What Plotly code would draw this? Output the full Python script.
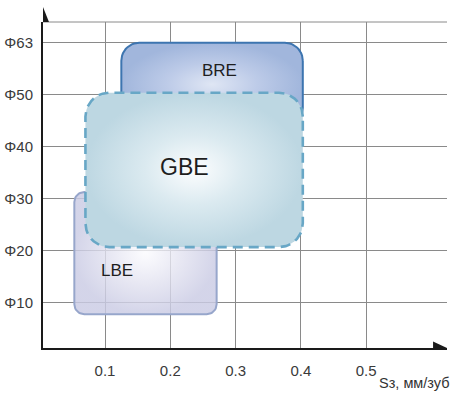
import numpy as np
import plotly.graph_objects as go

# Tool diameter categories (y) and feed per tooth ticks (x)
dia_labels = ["Φ10", "Φ20", "Φ30", "Φ40", "Φ50", "Φ63"]
dia_pos = [1, 2, 3, 4, 5, 6]
feed_ticks = [0.1, 0.2, 0.3, 0.4, 0.5]
feed_tick_text = ["0.1", "0.2", "0.3", "0.4", "0.5"]

# Application zones: feed range and diameter range (in category units)
zones = ["LBE", "BRE", "GBE"]
feed_min = [0.053, 0.125, 0.070]
feed_max = [0.271, 0.403, 0.403]
dia_min = [0.78, 4.40, 2.07]
dia_max = [3.13, 6.00, 5.04]

# Figure geometry
W, H = 451, 403
ML, MR, MT, MB = 41, 4, 22, 55
PW, PH = W - ML - MR, H - MT - MB
XR = [0.005, 0.005 + PW / 656.0]
YR = [0.13, 0.13 + PH / 52.0]
dx = (XR[1] - XR[0]) / PW
dy = (YR[1] - YR[0]) / PH

FONT = "Liberation Sans, Arial, sans-serif"

styles = {
    "LBE": dict(r=10, line=dict(color="#97a6cb", width=2),
                scale=[[0, "rgba(251,251,254,0.78)"], [0.5, "rgba(226,226,240,0.8)"], [1, "rgba(202,203,228,0.82)"]],
                label=dict(x=0.119, y=1.63, size=17)),
    "BRE": dict(r=18, line=dict(color="#3d75b0", width=2),
                scale=[[0, "#dfe6f4"], [0.5, "#bdcbe8"], [1, "#a1b6dc"]],
                label=dict(x=0.276, y=5.46, size=17)),
    "GBE": dict(r=24, line=dict(color="#68a7c6", width=2.6, dash="10px,6px"),
                scale=[[0, "#fcfdfe"], [0.45, "#dbeaf0"], [1, "#bdd7e2"]],
                label=dict(x=0.2215, y=3.61, size=23)),
}


def rounded_rect(x0, x1, y0, y1, r_px, n=12):
    rx, ry = r_px * dx, r_px * dy
    xs, ys = [], []
    corners = [
        (x1 - rx, y1 - ry, 0, 90),
        (x0 + rx, y1 - ry, 90, 180),
        (x0 + rx, y0 + ry, 180, 270),
        (x1 - rx, y0 + ry, 270, 360),
    ]
    for cx, cy, a0, a1 in corners:
        t = np.radians(np.linspace(a0, a1, n))
        xs.extend(cx + rx * np.cos(t))
        ys.extend(cy + ry * np.sin(t))
    xs.append(xs[0])
    ys.append(ys[0])
    return xs, ys


fig = go.Figure()
annotations = []
for name, fx0, fx1, d0, d1 in zip(zones, feed_min, feed_max, dia_min, dia_max):
    st = styles[name]
    xs, ys = rounded_rect(fx0, fx1, d0, d1, st["r"])
    fig.add_trace(go.Scatter(
        x=xs, y=ys, mode="lines", fill="toself",
        fillgradient=dict(type="radial", colorscale=st["scale"]),
        line=st["line"], hoverinfo="skip", showlegend=False, name=name,
    ))
    lb = st["label"]
    annotations.append(dict(x=lb["x"], y=lb["y"], xref="x", yref="y", text=name,
                            showarrow=False, font=dict(size=lb["size"], color="#1e1e1e", family=FONT)))

annotations.append(dict(x=1.012, y=-0.107, xref="paper", yref="paper", text="Sз, мм/зуб",
                        showarrow=False, xanchor="right", yanchor="middle",
                        font=dict(size=14.5, color="#333", family=FONT)))

shapes = [
    # top frame line
    dict(type="line", xref="paper", yref="paper", x0=0, x1=1, y0=1, y1=1,
         line=dict(color="#8a8a8a", width=1), layer="below"),
    # axis arrow heads
    dict(type="path", xref="paper", yref="paper",
         path=f"M 0 1 L 0 {1 + 15 / PH} L {6 / PW} 1 Z",
         fillcolor="#1a1a1a", line=dict(width=0)),
    dict(type="path", xref="paper", yref="paper",
         path=f"M {1 - 14 / PW} 0 L 1 0 L {1 - 14 / PW} {6.5 / PH} Z",
         fillcolor="#1a1a1a", line=dict(width=0)),
]

fig.update_layout(
    width=W, height=H,
    margin=dict(l=ML, r=MR, t=MT, b=MB),
    paper_bgcolor="white", plot_bgcolor="white",
    font=dict(family=FONT, color="#333"),
    annotations=annotations, shapes=shapes,
    xaxis=dict(range=XR, tickvals=feed_ticks, ticktext=feed_tick_text, showgrid=True,
               gridcolor="#8a8a8a", gridwidth=1, zeroline=False, showline=True,
               linecolor="#1a1a1a", linewidth=2, ticks="", ticklabelstandoff=8,
               tickfont=dict(size=15, color="#3a3a3a")),
    yaxis=dict(range=YR, tickvals=dia_pos, ticktext=dia_labels, showgrid=True,
               gridcolor="#8a8a8a", gridwidth=1, zeroline=False, showline=True,
               linecolor="#1a1a1a", linewidth=2, ticks="", ticklabelstandoff=5,
               tickfont=dict(size=15, color="#3a3a3a")),
)

fig.write_html("out.html")
